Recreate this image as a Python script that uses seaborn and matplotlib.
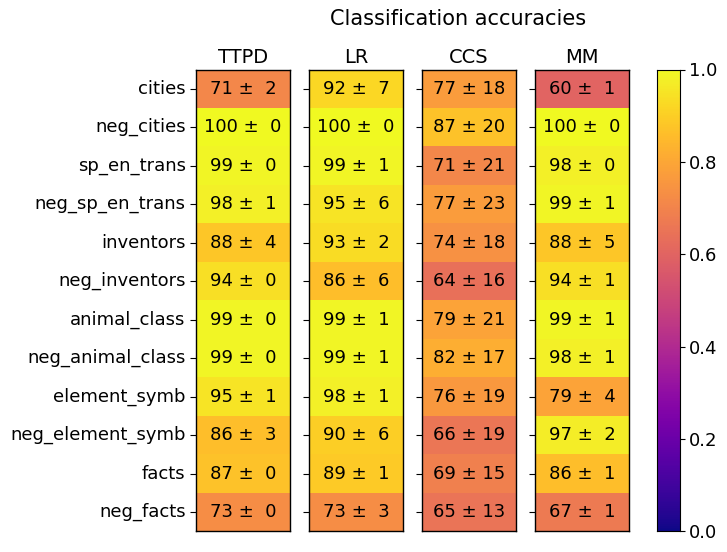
import numpy as np
import pandas as pd
import matplotlib
matplotlib.use("Agg")
import matplotlib.pyplot as plt
import seaborn as sns

datasets = ["cities", "neg_cities", "sp_en_trans", "neg_sp_en_trans", "inventors",
            "neg_inventors", "animal_class", "neg_animal_class", "element_symb",
            "neg_element_symb", "facts", "neg_facts"]
methods = ["TTPD", "LR", "CCS", "MM"]

ttpd_mean = [71, 100, 99, 98, 88, 94, 99, 99, 95, 86, 87, 73]
ttpd_std = [2, 0, 0, 1, 4, 0, 0, 0, 1, 3, 0, 0]
lr_mean = [92, 100, 99, 95, 93, 86, 99, 99, 98, 90, 89, 73]
lr_std = [7, 0, 1, 6, 2, 6, 1, 1, 1, 6, 1, 3]
ccs_mean = [77, 87, 71, 77, 74, 64, 79, 82, 76, 66, 69, 65]
ccs_std = [18, 20, 21, 23, 18, 16, 21, 17, 19, 19, 15, 13]
mm_mean = [60, 100, 98, 99, 88, 94, 99, 98, 79, 97, 86, 67]
mm_std = [1, 0, 0, 1, 5, 1, 1, 1, 4, 2, 1, 1]

means = [ttpd_mean, lr_mean, ccs_mean, mm_mean]
stds = [ttpd_std, lr_std, ccs_std, mm_std]

fig = plt.figure(figsize=(7.27, 5.52), dpi=100)
W, H = 727, 552
lefts = [196, 309, 422, 535]
top, bottom = 69.5, 531.3
axw = 94
cax = fig.add_axes([657 / W, 1 - bottom / H, 22.5 / W, (bottom - top) / H])

for i, (m, mean, std) in enumerate(zip(methods, means, stds)):
    ax = fig.add_axes([lefts[i] / W, 1 - bottom / H, axw / W, (bottom - top) / H])
    df = pd.DataFrame({m: np.array(mean) / 100.0}, index=datasets)
    annot = np.array([[f"{a:2d} ± {b:2d}"] for a, b in zip(mean, std)])
    sns.heatmap(df, ax=ax, cmap="plasma", vmin=0, vmax=1, annot=annot, fmt="",
                annot_kws={"fontsize": 13, "color": "black"},
                cbar=(i == len(methods) - 1), cbar_ax=cax if i == len(methods) - 1 else None)
    ax.set_title(m, fontsize=14, pad=5)
    ax.set_xticks([])
    ax.tick_params(axis="y", length=4, labelsize=13, left=True)
    if i == 0:
        ax.set_yticklabels(datasets, rotation=0, fontsize=13)
    else:
        ax.set_yticklabels([])
    for s in ax.spines.values():
        s.set_visible(True)
        s.set_linewidth(1)
        s.set_color("black")

cax.tick_params(labelsize=13)
cax.set_yticks([0.0, 0.2, 0.4, 0.6, 0.8, 1.0])
cax.set_yticklabels(["0.0", "0.2", "0.4", "0.6", "0.8", "1.0"])
for s in cax.spines.values():
    s.set_visible(True)
    s.set_color("black")

fig.text(458 / W, 1 - 19 / H, "Classification accuracies", ha="center", va="center", fontsize=15)
fig.savefig("out.png", dpi=100)
